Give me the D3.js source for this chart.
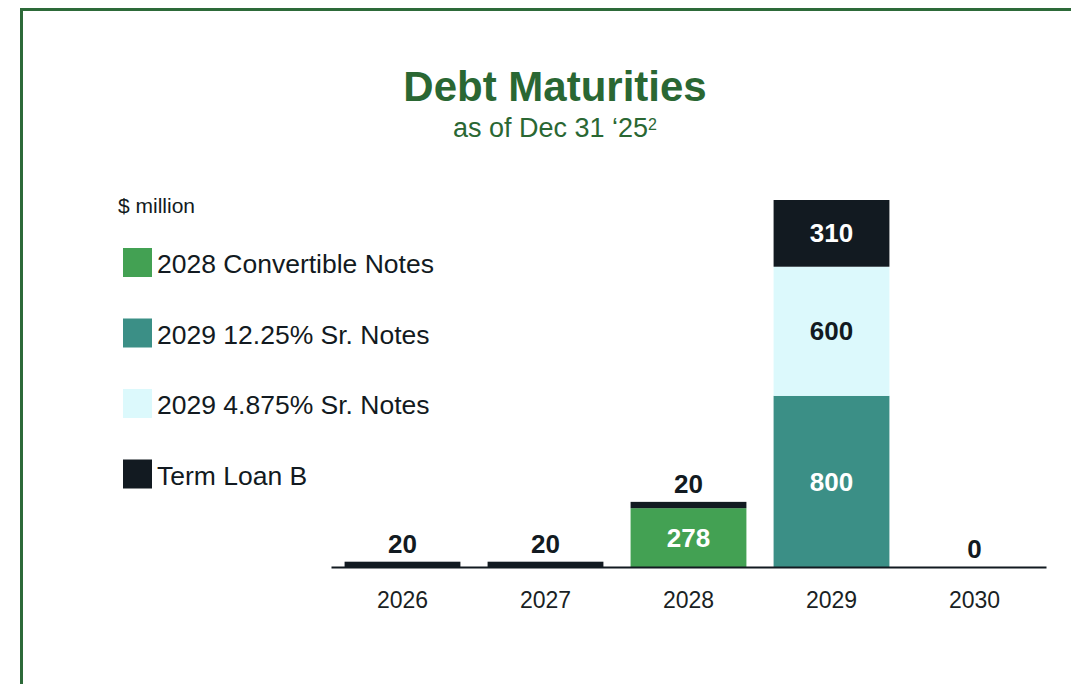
<!DOCTYPE html>
<html>
<head>
<meta charset="utf-8">
<script src="https://cdn.jsdelivr.net/npm/d3@7"></script>
<style>
  html, body { margin: 0; padding: 0; background: #fff; }
  svg { display: block; font-family: "Liberation Sans", Arial, sans-serif; }
</style>
</head>
<body>
<div id="chart"></div>
<script>
// Data
var years = ["2026", "2027", "2028", "2029", "2030"];
var convertibleNotes = [0, 0, 278, 0, 0];
var srNotes1225 = [0, 0, 0, 800, 0];
var srNotes4875 = [0, 0, 0, 600, 0];
var termLoanB = [20, 20, 20, 310, 0];

var seriesNames = ["2028 Convertible Notes", "2029 12.25% Sr. Notes", "2029 4.875% Sr. Notes", "Term Loan B"];
var seriesColors = ["#43a153", "#3b8f86", "#dcf9fc", "#121a21"];
var labelColors = ["#ffffff", "#ffffff", "#121a21", "#ffffff"];

// Build rows for the stack
var keys = ["conv", "sr1225", "sr4875", "tlb"];
var rows = years.map(function (y, i) {
  return { year: y, conv: convertibleNotes[i], sr1225: srNotes1225[i], sr4875: srNotes4875[i], tlb: termLoanB[i] };
});

var W = 1071, H = 684;
var svg = d3.select("#chart").append("svg").attr("width", W).attr("height", H);

// Frame (top and left green rules)
svg.append("rect").attr("x", 20).attr("y", 8).attr("width", W - 20).attr("height", 3).attr("fill", "#2d6a39");
svg.append("rect").attr("x", 20).attr("y", 8).attr("width", 3).attr("height", H - 8).attr("fill", "#2d6a39");

// Titles
svg.append("text").attr("x", 555).attr("y", 101).attr("text-anchor", "middle")
  .style("font-size", "42px").style("font-weight", "bold").attr("fill", "#2a6733")
  .text("Debt Maturities");
var sub = svg.append("text").attr("x", 555).attr("y", 137).attr("text-anchor", "middle")
  .style("font-size", "27px").attr("fill", "#2a6733");
sub.append("tspan").text("as of Dec 31 \u201825");
sub.append("tspan").attr("dy", -7).style("font-size", "16px").text("2");

svg.append("text").attr("x", 118).attr("y", 213).style("font-size", "21px").attr("fill", "#121a21").text("$ million");

// Legend
var legend = svg.append("g").selectAll("g").data(seriesNames).enter().append("g")
  .attr("transform", function (d, i) { return "translate(123," + (248 + i * 70.5) + ")"; });
legend.append("rect").attr("width", 29).attr("height", 29).attr("fill", function (d, i) { return seriesColors[i]; });
legend.append("text").attr("x", 34).attr("y", 25).style("font-size", "26.5px").attr("fill", "#121a21")
  .text(function (d) { return d; });

// Scales
var x = d3.scaleBand().domain(years).range([331, 1046]).paddingInner(0.19).paddingOuter(0.095);
var y = d3.scaleLinear().domain([0, 1710]).range([568, 200]);

var stacked = d3.stack().keys(keys)(rows);

// Bars
var layers = svg.append("g").selectAll("g").data(stacked).enter().append("g")
  .attr("fill", function (d, i) { return seriesColors[i]; });

layers.selectAll("rect").data(function (d) { return d; }).enter().append("rect")
  .filter(function (d) { return d[1] - d[0] > 0; })
  .attr("x", function (d) { return x(d.data.year); })
  .attr("width", x.bandwidth())
  .attr("y", function (d) { return y(d[1]); })
  .attr("height", function (d) { return y(d[0]) - y(d[1]); });

// Thicken the thin Term Loan B slivers so they stay visible
layers.filter(function (d) { return d.key === "tlb"; }).selectAll("rect")
  .filter(function (d) { return d[1] - d[0] < 50; })
  .attr("y", function (d) { return y(d[1]) - 2; })
  .attr("height", function (d) { return y(d[0]) - y(d[1]) + 2; });

// Value labels
var labels = svg.append("g").style("font-size", "26px").style("font-weight", "bold").attr("text-anchor", "middle");
stacked.forEach(function (s, si) {
  s.forEach(function (d) {
    var v = d[1] - d[0];
    if (v <= 0) return;
    var cx = x(d.data.year) + x.bandwidth() / 2;
    if (v >= 100) {
      labels.append("text").attr("x", cx).attr("y", (y(d[0]) + y(d[1])) / 2 + 9)
        .attr("fill", labelColors[si]).text(v);
    } else {
      labels.append("text").attr("x", cx).attr("y", y(d[1]) - 11)
        .attr("fill", "#121a21").text(v);
    }
  });
});
// Zero totals
rows.forEach(function (r) {
  var total = keys.reduce(function (a, k) { return a + r[k]; }, 0);
  if (total === 0) {
    labels.append("text").attr("x", x(r.year) + x.bandwidth() / 2).attr("y", y(0) - 10)
      .attr("fill", "#121a21").text(0);
  }
});

// Axis
var axis = svg.append("g").attr("transform", "translate(0,567)")
  .call(d3.axisBottom(x).tickSize(0).tickSizeOuter(0).tickPadding(25));
axis.select(".domain").attr("stroke", "#121a21").attr("stroke-width", 2);
axis.selectAll("text").style("font-size", "23px").style("font-family", "Liberation Sans, Arial, sans-serif")
  .attr("fill", "#1a1f24");
</script>
</body>
</html>
